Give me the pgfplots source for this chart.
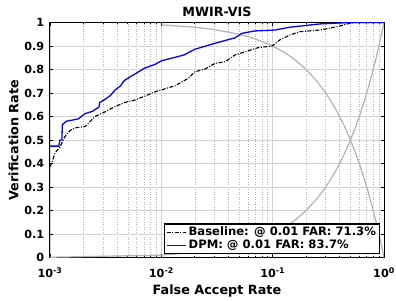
\documentclass[border=0pt]{standalone}
\usepackage{fontspec}
\setmainfont{DejaVu Sans}
\usepackage{pgfplots}
\pgfplotsset{compat=1.18}
\begin{document}
\begin{tikzpicture}
\useasboundingbox (-50pt,-42.5pt) rectangle (346pt,257.5pt);
\begin{axis}[
  scale only axis, width=334pt, height=235pt,
  xmode=log, xmin=1e-3, xmax=1, ymin=0, ymax=1,
  xtick={0.001,0.01,0.1,1},
  xticklabels={10\textsuperscript{-3},10\textsuperscript{-2},10\textsuperscript{-1},10\textsuperscript{0}},
  ytick={0,0.1,0.2,0.3,0.4,0.5,0.6,0.7,0.8,0.9,1},
  yticklabels={0,0.1,0.2,0.3,0.4,0.5,0.6,0.7,0.8,0.9,1},
  minor y tick num=0,
  tick align=inside,
  major tick length=3.5pt, minor tick length=2pt,
  every tick/.style={black, line width=0.7pt},
  axis line style={black, line width=1pt},
  xmajorgrids=true, ymajorgrids=true, xminorgrids=true,
  major grid style={black!18, line width=0.8pt},
  minor grid style={black!30, line width=0.6pt, dash pattern=on 1pt off 1.5pt},
  ticklabel style={font=\bfseries\fontsize{11.2}{13}\selectfont},
  xticklabel style={anchor=base, yshift=-20pt},
  yticklabel style={xshift=-2.3pt},
  every axis title shift=0pt,
  title={MWIR-VIS},
  title style={font=\bfseries\fontsize{12.7}{14}\selectfont, at={(axis description cs:0.5,1.0255)}, anchor=base},
  xlabel={False Accept Rate},
  xlabel style={font=\bfseries\fontsize{12.8}{14}\selectfont, at={(axis description cs:0.5,-0.1566)}, anchor=base},
  ylabel={Verification Rate},
  ylabel style={font=\bfseries\fontsize{12.8}{14}\selectfont, at={(axis description cs:-0.0943,0.5)}, anchor=base},
  legend style={at={(axis description cs:1,0)}, anchor=south east, xshift=-4pt, yshift=3.5pt,
    draw=black, line width=1.2pt, fill=white, inner xsep=1.5pt, inner ysep=1pt, row sep=-1pt,
    font=\bfseries\fontsize{11.6}{13}\selectfont},
  legend cell align=left,
]
% reference lines
\addplot[black!30, line width=1.2pt, forget plot] coordinates {
(0.01,0.99)(0.02,0.98)(0.03,0.97)(0.05,0.95)(0.07,0.93)(0.1,0.9)(0.13,0.87)(0.16,0.84)(0.2,0.8)(0.25,0.75)(0.3,0.7)(0.35,0.65)(0.4,0.6)(0.45,0.55)(0.5,0.5)(0.55,0.45)(0.6,0.4)(0.65,0.35)(0.7,0.3)(0.75,0.25)(0.8,0.2)(0.85,0.15)(0.9,0.1)(0.95,0.05)(0.98,0.02)(1,0)};
\addplot[black!30, line width=1.2pt, forget plot] coordinates {
(0.001,0.001)(0.01,0.01)(0.03,0.03)(0.05,0.05)(0.07,0.07)(0.1,0.1)(0.13,0.13)(0.16,0.16)(0.2,0.2)(0.25,0.25)(0.3,0.3)(0.35,0.35)(0.4,0.4)(0.45,0.45)(0.5,0.5)(0.55,0.55)(0.6,0.6)(0.65,0.65)(0.7,0.7)(0.75,0.75)(0.8,0.8)(0.85,0.85)(0.9,0.9)(0.95,0.95)(1,1)};
% Baseline
\addplot[black, line width=1.1pt, dash pattern=on 4pt off 1.5pt on 1pt off 1.5pt,
  legend image code/.code={\draw[draw=black, line width=1.1pt, dash pattern=on 4pt off 1.5pt on 1pt off 1.5pt] (0pt,0pt) -- (19pt,0pt);}] coordinates {
(0.001,0.386)(0.00105,0.41)(0.00111,0.445)(0.00123,0.47)(0.00136,0.514)(0.00151,0.54)(0.00168,0.552)(0.00206,0.557)(0.00229,0.578)(0.00254,0.6)(0.00312,0.62)(0.00384,0.642)(0.00472,0.66)(0.0058,0.67)(0.00713,0.687)(0.00877,0.705)(0.01,0.713)(0.0133,0.731)(0.0174,0.762)(0.02,0.79)(0.0247,0.802)(0.0303,0.826)(0.0373,0.833)(0.0459,0.862)(0.06,0.879)(0.074,0.893)(0.099,0.9)(0.116,0.926)(0.143,0.947)(0.176,0.961)(0.266,0.968)(0.378,0.982)(0.495,0.997)(0.57,1)(1,1)};
\addlegendentry{Baseline: @ 0.01 FAR: 71.3\%}
% DPM
\addplot[blue, line width=1.3pt,
  legend image code/.code={\draw[draw=blue, line width=1.4pt, solid] (0pt,0pt) -- (19pt,0pt);}] coordinates {
(0.001,0.474)(0.0012,0.474)(0.00123,0.5)(0.00128,0.5)(0.00129,0.565)(0.0014,0.58)(0.0016,0.585)(0.0018,0.59)(0.00206,0.612)(0.0024,0.622)(0.00265,0.635)(0.00275,0.64)(0.0028,0.66)(0.0031,0.672)(0.0035,0.69)(0.00384,0.713)(0.0043,0.73)(0.0045,0.745)(0.00472,0.755)(0.0053,0.77)(0.006,0.785)(0.007,0.805)(0.0088,0.822)(0.01,0.837)(0.0133,0.852)(0.016,0.862)(0.02,0.886)(0.03,0.911)(0.046,0.935)(0.053,0.954)(0.069,0.964)(0.105,0.968)(0.143,0.98)(0.266,0.994)(0.495,1.0)(1,1)};
\addlegendentry{DPM: @ 0.01 FAR: 83.7\%}
\end{axis}
\end{tikzpicture}
\end{document}
